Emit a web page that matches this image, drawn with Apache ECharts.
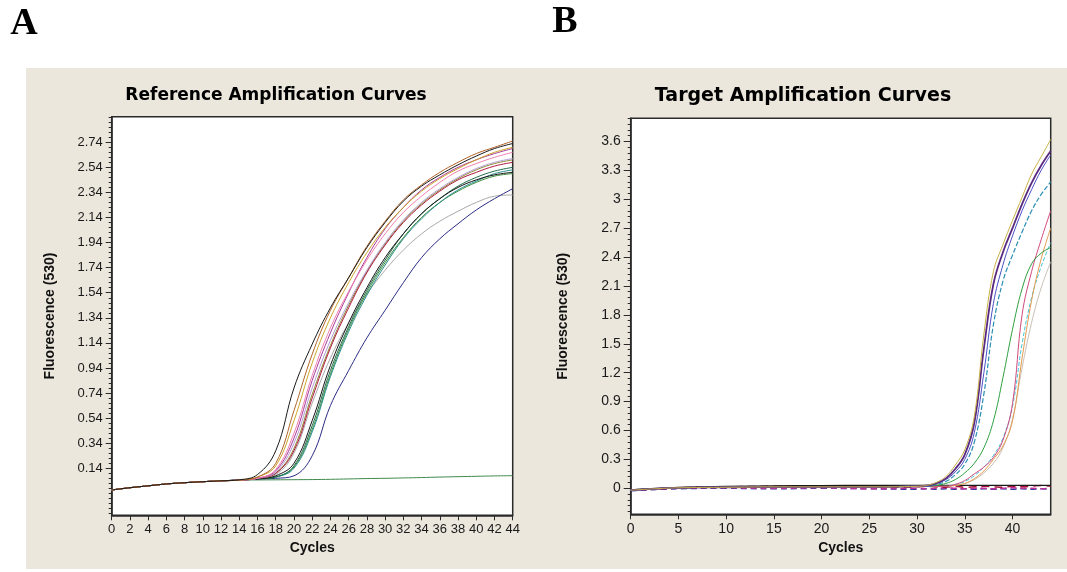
<!DOCTYPE html>
<html><head><meta charset="utf-8">
<script src="https://cdn.jsdelivr.net/npm/echarts@6/dist/echarts.min.js"></script>
<style>html,body{margin:0;padding:0;background:#fff}#c{width:1067px;height:572px}</style>
</head><body><div id="c"></div>
<script>
// ---------- Panel A: reference amplification curves ----------
const cyclesL = [0,2,4,6,8,10,12,14,16,18,20,22,24,26,28,30,32,34,36,38,40,42,44];
const refBlack   = [-0.033,-0.015,0,0.015,0.025,0.033,0.04,0.048, 0.09,0.28,0.78,1.13,1.42,1.66,1.90,2.10,2.27,2.39,2.48,2.56,2.63,2.69,2.73];
const refBrown   = [-0.033,-0.015,0,0.015,0.025,0.033,0.04,0.046, 0.07,0.18,0.60,1.05,1.40,1.66,1.91,2.11,2.28,2.40,2.50,2.58,2.65,2.70,2.75];
const refGold    = [-0.033,-0.015,0,0.015,0.025,0.033,0.04,0.046, 0.07,0.16,0.52,0.98,1.34,1.62,1.86,2.06,2.22,2.35,2.45,2.53,2.60,2.66,2.70];
const refPink    = [-0.033,-0.015,0,0.015,0.025,0.033,0.04,0.046, 0.06,0.13,0.42,0.88,1.26,1.55,1.80,2.01,2.18,2.31,2.42,2.51,2.57,2.62,2.66];
const refMagenta = [-0.033,-0.015,0,0.015,0.025,0.033,0.04,0.046, 0.06,0.12,0.38,0.84,1.22,1.54,1.82,2.05,2.22,2.36,2.46,2.54,2.60,2.65,2.69];
const refLavender= [-0.033,-0.015,0,0.015,0.025,0.033,0.04,0.046, 0.06,0.11,0.34,0.78,1.16,1.46,1.72,1.94,2.12,2.26,2.37,2.46,2.53,2.58,2.61];
const refRed     = [-0.033,-0.015,0,0.015,0.025,0.033,0.04,0.046, 0.06,0.10,0.28,0.70,1.10,1.42,1.70,1.92,2.10,2.24,2.35,2.44,2.50,2.55,2.58];
const refOlive   = [-0.033,-0.015,0,0.015,0.025,0.033,0.04,0.046, 0.06,0.10,0.30,0.73,1.12,1.44,1.71,1.93,2.11,2.25,2.36,2.45,2.52,2.57,2.60];
const refBlack2  = [-0.033,-0.015,0,0.015,0.025,0.033,0.04,0.046, 0.055,0.08,0.18,0.52,0.96,1.30,1.58,1.82,2.01,2.17,2.29,2.38,2.44,2.48,2.50];
const refDkGreen = [-0.033,-0.015,0,0.015,0.025,0.033,0.04,0.046, 0.055,0.07,0.16,0.48,0.92,1.27,1.56,1.80,2.01,2.17,2.29,2.39,2.46,2.51,2.54];
const refTeal    = [-0.033,-0.015,0,0.015,0.025,0.033,0.04,0.046, 0.055,0.07,0.14,0.43,0.87,1.23,1.52,1.76,1.97,2.13,2.26,2.36,2.43,2.49,2.52];
const refGreen   = [-0.033,-0.015,0,0.015,0.025,0.033,0.04,0.046, 0.055,0.07,0.15,0.45,0.89,1.25,1.54,1.78,1.98,2.14,2.26,2.35,2.42,2.47,2.49];
const refGray    = [-0.033,-0.015,0,0.015,0.025,0.033,0.04,0.046, 0.06,0.09,0.26,0.66,1.02,1.30,1.53,1.72,1.88,2.01,2.11,2.19,2.26,2.31,2.32];
const refNavy    = [-0.033,-0.015,0,0.015,0.025,0.033,0.04,0.046, 0.055,0.06,0.08,0.24,0.64,0.92,1.18,1.40,1.62,1.82,1.97,2.09,2.20,2.29,2.37];
const refNeg     = [-0.033,-0.015,0,0.015,0.025,0.033,0.04,0.046, 0.047,0.048,0.049,0.05,0.052,0.055,0.058,0.06,0.063,0.066,0.07,0.073,0.076,0.079,0.081];
const refTicks   = [0.14,0.34,0.54,0.74,0.94,1.14,1.34,1.54,1.74,1.94,2.14,2.34,2.54,2.74];
const refXTicks  = [0,2,4,6,8,10,12,14,16,18,20,22,24,26,28,30,32,34,36,38,40,42,44];

// ---------- Panel B: target amplification curves ----------
const cyclesR = [0,5,10,15,20,25,30,31,32,33,34,35,36,37,38,39,40,41,42,43,44];
const tgtGold   = [-0.02,0.005,0.01,0.015,0.015,0.015,0.02, 0.03,0.06,0.12,0.24,0.40,0.75,1.60,2.25,2.53,2.78,3.02,3.26,3.44,3.62];
const tgtPurple = [-0.02,0.005,0.01,0.015,0.015,0.015,0.02, 0.03,0.05,0.10,0.20,0.35,0.68,1.45,2.12,2.45,2.70,2.95,3.17,3.35,3.50];
const tgtBlue   = [-0.02,0.005,0.01,0.015,0.015,0.015,0.02, 0.02,0.05,0.09,0.17,0.30,0.58,1.20,1.92,2.32,2.62,2.88,3.10,3.30,3.46];
const tgtTeal   = [-0.02,0.005,0.01,0.015,0.015,0.015,0.02, 0.02,0.04,0.07,0.14,0.25,0.48,0.98,1.70,2.15,2.42,2.66,2.88,3.05,3.18];
const tgtGreen  = [-0.02,0.005,0.01,0.015,0.015,0.015,0.02, 0.02,0.03,0.05,0.09,0.16,0.26,0.42,0.70,1.15,1.65,2.07,2.33,2.44,2.50];
const tgtPink   = [-0.02,0.005,0.01,0.015,0.015,0.015,0.02, 0.02,0.02,0.02,0.04,0.08,0.15,0.22,0.32,0.50,0.88,1.80,2.25,2.58,2.88];
const tgtOrange = [-0.02,0.005,0.01,0.015,0.015,0.015,0.02, 0.02,0.02,0.02,0.03,0.05,0.10,0.18,0.30,0.44,0.70,1.35,1.95,2.38,2.70];
const tgtCyan   = [-0.02,0.005,0.01,0.015,0.015,0.015,0.02, 0.02,0.02,0.02,0.04,0.07,0.13,0.22,0.34,0.52,0.85,1.50,1.98,2.30,2.55];
const tgtGray   = [-0.02,0.005,0.01,0.015,0.015,0.015,0.02, 0.02,0.02,0.02,0.03,0.05,0.09,0.16,0.26,0.42,0.72,1.25,1.72,2.08,2.35];
const negBlack  = [-0.015,0.01,0.02,0.025,0.028,0.03,0.03, 0.03,0.03,0.03,0.03,0.03,0.03,0.03,0.03,0.03,0.03,0.03,0.03,0.03,0.03];
const negRed    = [-0.02,0.005,0.015,0.02,0.02,0.01,0.015, 0.02,0.015,0.01,0.02,0.01,0.015,0.02,0.015,0.01,0.02,0.015,0.02,0.03,0.02];
const negMagenta= [-0.02,0.0,0.005,0.0,0.005,-0.005,0.0, -0.005,0.0,0.005,0.0,-0.005,0.0,0.0,-0.005,0.0,0.005,0.0,0.0,-0.005,0.005];
const negNavy   = [-0.025,-0.005,0.0,-0.005,0.0,-0.005,-0.01, -0.005,-0.01,-0.005,-0.01,-0.005,-0.01,-0.005,-0.01,-0.005,-0.01,-0.005,-0.01,-0.005,-0.01];
const tgtTicks  = [0,0.3,0.6,0.9,1.2,1.5,1.8,2.1,2.4,2.7,3,3.3,3.6];
const tgtXTicks = [0,5,10,15,20,25,30,35,40];

// minor tick positions (axis decoration)
const minorL = [];
for (let k = -9; k <= 70; k++) { if (k % 5 !== 0 || k < 0 || k > 65) minorL.push(+(0.14 + 0.04 * k).toFixed(3)); }
const minorR = [];
for (let k = -4; k <= 64; k++) { if (k % 5 !== 0 || k < 0 || k > 60) minorR.push(+(0.06 * k).toFixed(3)); }

const AX = '#2a2a2a';
const labelFont = {fontFamily: 'Liberation Sans', fontSize: 13, color: '#1a1a1a'};
const nameFont = {fontFamily: 'Liberation Sans', fontSize: 14, fontWeight: 'bold', color: '#111'};

function mk(cycles, arr, color, xi, opts) {
  return Object.assign({
    type: 'line', xAxisIndex: xi, yAxisIndex: xi * 2, showSymbol: false, symbol: 'none',
    smooth: 0.4, clip: true, animation: false,
    data: cycles.map((c, i) => [c, arr[i]]),
    lineStyle: {color: color, width: 1}
  }, opts || {});
}

const seriesL = [
  [refNeg, '#3f8a4c'], [refGray, '#a9a9a9'], [refNavy, '#2b2b86'], [refGreen, '#3d8f3d'],
  [refTeal, '#2a8f8f'], [refDkGreen, '#1f6a4b'], [refBlack2, '#151515'], [refOlive, '#8a8a33'],
  [refRed, '#b0183f'], [refLavender, '#b49ed8'], [refMagenta, '#a83a98'], [refPink, '#ef7fb2'],
  [refGold, '#cda52a'], [refBrown, '#b0642a'], [refBlack, '#1a1a1a']
].map(p => mk(cyclesL, p[0], p[1], 0));

const seriesR = [
  mk(cyclesR, negNavy, '#2d3aa0', 1, {lineStyle: {color: '#2d3aa0', width: 1.5, type: [6, 4]}}),
  mk(cyclesR, negMagenta, '#c0309c', 1, {lineStyle: {color: '#c0309c', width: 1.5, type: [6, 4]}}),
  mk(cyclesR, negRed, '#a3123a', 1, {lineStyle: {color: '#a3123a', width: 1.5, type: [8, 5]}}),
  mk(cyclesR, negBlack, '#1a1a1a', 1, {lineStyle: {color: '#1a1a1a', width: 1.2}}),
  mk(cyclesR, tgtGray, '#c9bfb5', 1),
  mk(cyclesR, tgtCyan, '#44c4d8', 1, {lineStyle: {color: '#44c4d8', width: 1, type: [4, 2]}}),
  mk(cyclesR, tgtOrange, '#e49a4e', 1),
  mk(cyclesR, tgtPink, '#d0487c', 1),
  mk(cyclesR, tgtGreen, '#2f9f40', 1),
  mk(cyclesR, tgtTeal, '#2a8fb4', 1, {lineStyle: {color: '#2a8fb4', width: 1.2, type: [5, 2]}}),
  mk(cyclesR, tgtBlue, '#4a4fc4', 1),
  mk(cyclesR, tgtPurple, '#5a2a80', 1, {lineStyle: {color: '#5a2a80', width: 1.8}}),
  mk(cyclesR, tgtGold, '#c6b045', 1)
];

const option = {
  animation: false,
  backgroundColor: '#ffffff',
  graphic: [
    {type: 'rect', z: -100, shape: {x: 26, y: 68, width: 1041, height: 501}, style: {fill: '#ece7dd'}},
    {type: 'text', x: 24, y: 24, style: {text: 'A', font: 'bold 38px "Liberation Serif"', fill: '#000', align: 'center', verticalAlign: 'middle', textAlign: 'center', textVerticalAlign: 'middle'}},
    {type: 'text', x: 565, y: 22, style: {text: 'B', font: 'bold 38px "Liberation Serif"', fill: '#000', align: 'center', verticalAlign: 'middle', textAlign: 'center', textVerticalAlign: 'middle'}},
    {type: 'text', x: 276, y: 96, style: {text: 'Reference Amplification Curves', font: 'bold 17px "DejaVu Sans"', fill: '#000', align: 'center', verticalAlign: 'middle', textAlign: 'center', textVerticalAlign: 'middle'}},
    {type: 'text', x: 803, y: 96, style: {text: 'Target Amplification Curves', font: 'bold 19px "DejaVu Sans"', fill: '#000', align: 'center', verticalAlign: 'middle', textAlign: 'center', textVerticalAlign: 'middle'}}
  ],
  grid: [
    {left: 111.7, top: 116.7, width: 401, height: 398.6, show: true, backgroundColor: '#fff', borderColor: AX, borderWidth: 1.5},
    {left: 630.7, top: 118.3, width: 420, height: 396, show: true, backgroundColor: '#fff', borderColor: AX, borderWidth: 1.5}
  ],
  xAxis: [
    {gridIndex: 0, type: 'value', min: 0, max: 44, position: 'bottom',
     axisLine: {onZero: false, lineStyle: {color: AX, width: 1.5}}, axisTick: {customValues: refXTicks, length: 5, lineStyle: {color: AX}},
     axisLabel: Object.assign({margin: 8, customValues: refXTicks}, labelFont), splitLine: {show: false},
     name: 'Cycles', nameLocation: 'middle', nameGap: 26, nameTextStyle: nameFont},
    {gridIndex: 1, type: 'value', min: 0, max: 44, position: 'bottom',
     axisLine: {onZero: false, lineStyle: {color: AX, width: 1.5}}, axisTick: {customValues: tgtXTicks, length: 5, lineStyle: {color: AX}},
     axisLabel: {margin: 8, customValues: tgtXTicks, fontSize: 14, fontFamily: 'Liberation Sans', color: '#1a1a1a'}, splitLine: {show: false},
     name: 'Cycles', nameLocation: 'middle', nameGap: 25, nameTextStyle: nameFont}
  ],
  yAxis: [
    {gridIndex: 0, type: 'value', min: -0.235, max: 2.944, position: 'left',
     axisLine: {show: true, onZero: false, lineStyle: {color: AX, width: 1.5}}, axisTick: {customValues: refTicks, length: 6, lineStyle: {color: AX}},
     axisLabel: Object.assign({margin: 9, customValues: refTicks, formatter: v => (+v).toFixed(2)}, labelFont), splitLine: {show: false},
     name: 'Fluorescence (530)', nameLocation: 'middle', nameGap: 55, nameTextStyle: nameFont},
    {gridIndex: 0, type: 'value', min: -0.235, max: 2.944, position: 'left', offset: 0, axisLine: {show: false, onZero: false},
     axisTick: {show: true, customValues: minorL, length: 3, lineStyle: {color: AX}}, axisLabel: {show: false}, splitLine: {show: false}},
    {gridIndex: 1, type: 'value', min: -0.27, max: 3.84, position: 'left',
     axisLine: {show: true, onZero: false, lineStyle: {color: AX, width: 1.5}}, axisTick: {customValues: tgtTicks, length: 7, lineStyle: {color: AX}},
     axisLabel: {margin: 10, customValues: tgtTicks, formatter: v => String(+(+v).toFixed(1)), fontFamily: 'Liberation Sans', fontSize: 14, color: '#1a1a1a'}, splitLine: {show: false},
     name: 'Fluorescence (530)', nameLocation: 'middle', nameGap: 61, nameTextStyle: nameFont},
    {gridIndex: 1, type: 'value', min: -0.27, max: 3.84, position: 'left', offset: 0, axisLine: {show: false, onZero: false},
     axisTick: {show: true, customValues: minorR, length: 3, lineStyle: {color: AX}}, axisLabel: {show: false}, splitLine: {show: false}}
  ],
  series: seriesL.concat(seriesR)
};

const chart = echarts.init(document.getElementById('c'), null, {renderer: 'canvas'});
chart.setOption(option);
</script>
</body></html>
